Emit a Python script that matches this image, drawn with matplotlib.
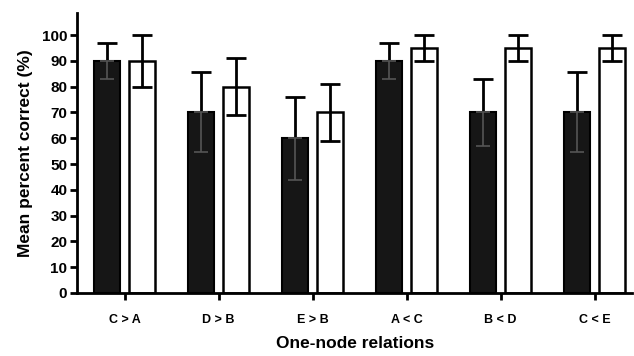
import numpy as np
import matplotlib
matplotlib.use("Agg")
import matplotlib.pyplot as plt

plt.rcParams['font.family'] = ['Liberation Sans', 'DejaVu Sans']

# Data
relations = ['C > A', 'D > B', 'E > B', 'A < C', 'B < D', 'C < E']
dark_means = [90, 70, 60, 90, 70, 70]
dark_errs = [7, 15.5, 16, 7, 13, 15.5]
white_means = [90, 80, 70, 95, 95, 95]
white_errs = [10, 11, 11, 5, 5, 5]

x = np.arange(len(relations))
width = 0.28
offset = 0.186

fig = plt.figure(figsize=(6.34, 3.56), dpi=100)
ax = fig.add_axes([0.1215, 0.177, 0.876, 0.786])

# dark bars: error bars drawn behind, faint lower whisker visible on top
ax.errorbar(x - offset, dark_means, yerr=dark_errs, fmt='none', ecolor='black',
            elinewidth=2, capsize=7, capthick=2, zorder=1)
ax.bar(x - offset, dark_means, width, color='#161616', edgecolor='black',
       linewidth=1.5, zorder=2)
ax.errorbar(x - offset, dark_means, yerr=[dark_errs, [0] * len(x)], fmt='none',
            ecolor='#555555', elinewidth=1.2, capsize=5, capthick=1.2, zorder=3)

# white bars
ax.bar(x + offset, white_means, width, color='white', edgecolor='black',
       linewidth=1.8, zorder=2)
ax.errorbar(x + offset, white_means, yerr=white_errs, fmt='none', ecolor='black',
            elinewidth=2, capsize=7, capthick=2, zorder=3)

ax.set_xlim(-0.505, 5.4)
ax.set_ylim(0, 108.5)
ax.set_yticks(np.arange(0, 101, 10))
ax.set_xticks(x)
ax.set_xticklabels(relations, fontsize=9, fontweight='bold')
for lbl in ax.get_yticklabels():
    lbl.set_fontsize(11)
    lbl.set_fontweight('bold')

ax.spines['top'].set_visible(False)
ax.spines['right'].set_visible(False)
ax.spines['left'].set_linewidth(2)
ax.spines['bottom'].set_linewidth(2)
ax.tick_params(axis='y', length=5, width=2, pad=2)
ax.tick_params(axis='x', length=5, width=2, pad=10)

ax.set_ylabel('Mean percent correct (%)', fontsize=12.5, fontweight='bold', labelpad=6)
ax.set_xlabel('One-node relations', fontsize=12.5, fontweight='bold', labelpad=7)

fig.savefig('out.png', dpi=100)
